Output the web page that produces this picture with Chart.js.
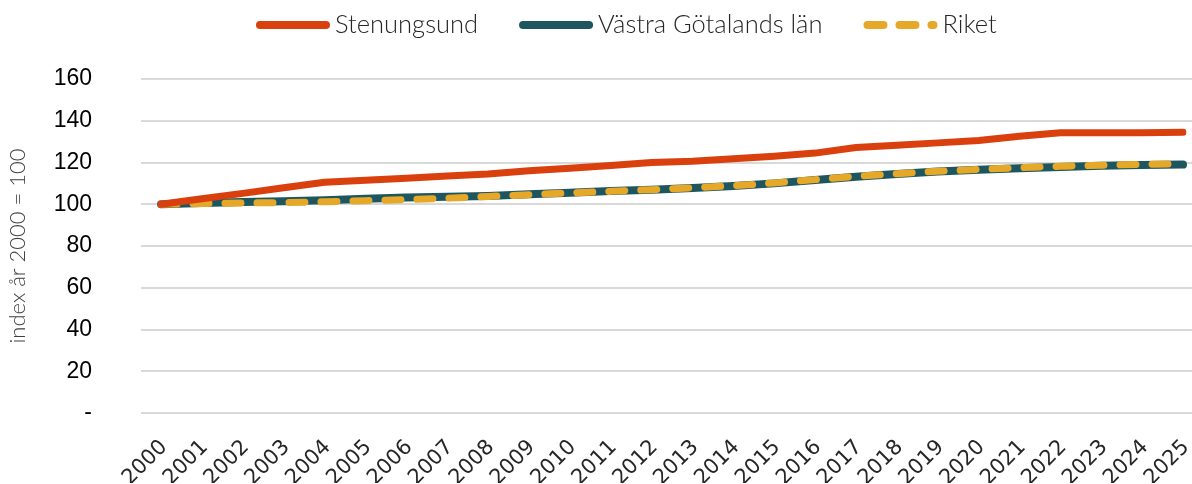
<!DOCTYPE html>
<html>
<head>
<meta charset="utf-8">
<script src="https://cdn.jsdelivr.net/npm/chart.js@4.4.0/dist/chart.umd.min.js"></script>
<style>
  body { margin: 0; background: #fff; }
  #wrap { width: 1192px; height: 484px; }
</style>
</head>
<body>
<div id="wrap"><canvas id="chart"></canvas></div>
<script>
var years = ['2000', '2001', '2002', '2003', '2004', '2005', '2006', '2007', '2008', '2009',
  '2010', '2011', '2012', '2013', '2014', '2015', '2016', '2017', '2018', '2019',
  '2020', '2021', '2022', '2023', '2024', '2025'];

var stenungsund = [100, 102.6, 105.2, 107.9, 110.5, 111.5, 112.5, 113.5, 114.5, 116,
  117.3, 118.6, 120, 120.6, 121.8, 123, 124.5, 127.2, 128.3, 129.4,
  130.5, 132.6, 134.3, 134.3, 134.3, 134.5];

var vastraGotaland = [100, 100.6, 101.1, 101.4, 101.9, 102.6, 103.2, 103.6, 104, 104.8,
  105.5, 106.3, 107, 107.8, 108.7, 110, 111.6, 113.2, 114.5, 115.7,
  116.5, 117.2, 117.9, 118.4, 118.8, 119];

var riket = [100, 100.3, 100.6, 100.8, 101.2, 101.7, 102.2, 102.9, 103.7, 104.6,
  105.4, 106.2, 107, 107.9, 108.9, 110.2, 111.8, 113.4, 114.6, 115.8,
  116.7, 117.5, 118.2, 118.7, 119.1, 119.3];

var yMin = 0, yMax = 160, yStep = 20;

// legend drawn by hand so spacing matches the original
var lineLegend = {
  id: 'lineLegend',
  afterDraw: function(chart) {
    var ctx = chart.ctx;
    var x = 256, y = 25;
    ctx.save();
    ctx.font = '300 25.5px Lato';
    ctx.textBaseline = 'middle';
    chart.data.datasets.forEach(function(ds) {
      ctx.beginPath();
      ctx.setLineDash(ds.borderDash || []);
      ctx.lineWidth = 8;
      ctx.lineCap = 'round';
      ctx.strokeStyle = ds.borderColor;
      ctx.moveTo(x + 4, y);
      ctx.lineTo(x + 70, y);
      ctx.stroke();
      ctx.setLineDash([]);
      ctx.fillStyle = '#262626';
      ctx.fillText(ds.label, x + 79, y);
      x += 79 + ctx.measureText(ds.label).width + 41;
    });
    ctx.restore();
  }
};

var ctx = document.getElementById('chart').getContext('2d');
new Chart(ctx, {
  type: 'line',
  data: {
    labels: years,
    datasets: [{
      label: 'Stenungsund',
      data: stenungsund,
      borderColor: '#d9400e',
      borderWidth: 7,
      order: 0
    }, {
      label: 'Västra Götalands län',
      data: vastraGotaland,
      borderColor: '#1e5660',
      borderWidth: 8,
      order: 2
    }, {
      label: 'Riket',
      data: riket,
      borderColor: '#e6a829',
      borderWidth: 7,
      borderDash: [16, 16],
      order: 1
    }]
  },
  options: {
    responsive: true,
    maintainAspectRatio: false,
    animation: false,
    layout: { padding: { top: 79, right: 0, bottom: 1, left: 0 } },
    elements: {
      point: { radius: 0 },
      line: { tension: 0, borderCapStyle: 'round', borderJoinStyle: 'round', fill: false }
    },
    plugins: {
      legend: { display: false },
      tooltip: { enabled: false }
    },
    scales: {
      x: {
        offset: false,
        grid: { display: false },
        border: { display: false },
        afterFit: function(scale) {
          // rotated year labels should not push the plot inwards
          scale.paddingLeft = 0;
          scale.paddingRight = 0;
          scale.height = 70;
        },
        ticks: {
          autoSkip: false,
          minRotation: 45,
          maxRotation: 45,
          labelOffset: 3,
          padding: 14,
          color: '#262626',
          font: { family: 'DejaVu Sans', size: 21 }
        }
      },
      y: {
        min: yMin,
        max: yMax,
        border: { display: false },
        grid: { color: '#d9d9d9', lineWidth: 2, tickLength: 20 },
        afterFit: function(scale) { scale.width = 161; },
        ticks: {
          stepSize: yStep,
          padding: 49,
          color: '#000',
          font: { family: 'Liberation Sans', size: 23 },
          callback: function(v) { return v === 0 ? '-' : v; }
        },
        title: {
          display: true,
          text: 'index år 2000 = 100',
          color: '#404040',
          padding: { top: 5, bottom: 4 },
          font: { family: 'Lato', weight: 300, size: 22 }
        }
      },
      // right-hand stub so gridlines run to the edge
      y2: {
        position: 'right',
        min: yMin,
        max: yMax,
        border: { display: false },
        grid: { color: '#d9d9d9', lineWidth: 2, tickLength: 9, drawOnChartArea: false },
        afterFit: function(scale) { scale.width = 9; },
        ticks: { stepSize: yStep, display: false }
      }
    }
  },
  plugins: [lineLegend]
});
</script>
</body>
</html>
